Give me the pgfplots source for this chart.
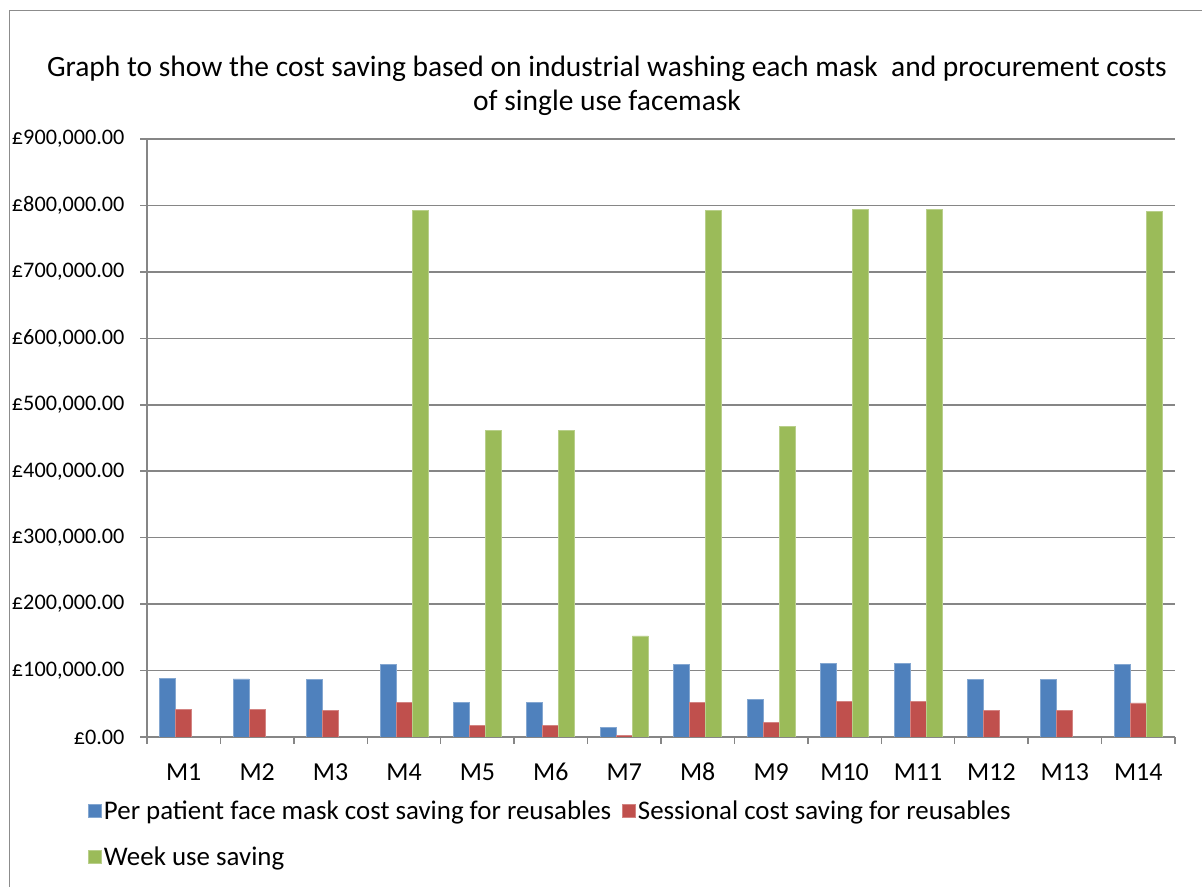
\documentclass[border=0pt]{standalone}
\usepackage{fontspec}
\setmainfont{Carlito}
\usepackage{pgfplots}
\usepackage{pgfplotstable}
\pgfplotsset{compat=1.18}

\definecolor{mblue}{HTML}{4F81BD}
\definecolor{mred}{HTML}{C0504D}
\definecolor{mgreen}{HTML}{9BBB59}
\definecolor{gridgray}{HTML}{868686}
\definecolor{framegray}{HTML}{8C8C8C}

% cost savings per mask type (GBP); nan = no weekly figure
\pgfplotstableread{
cat perpatient sessional week
0  88000  41600  nan
1  87300  41100  nan
2  86300  40100  nan
3  109600 52300  793000
4  52300  17300  462000
5  52300  17300  462000
6  14700  3000   152000
7  108600 51800  792000
8  56900  22300  467000
9  111000 53800  794000
10 111000 53800  794000
11 86300  40600  nan
12 86300  40600  nan
13 108600 51300  791000
}\masks

\pgfplotsset{
  sqlegend/.style={legend image code/.code={%
    \fill[##1] (0bp,-6.5bp) rectangle (13bp,6.5bp);}},
}

\begin{document}
\begin{tikzpicture}[x=1bp,y=1bp]
\path[use as bounding box] (0,0) rectangle (1202,887);
\draw[framegray, line width=1.5bp] (9.5,0) -- (9.5,876.5) -- (1202,876.5);
\node[font=\fontsize{29.6}{34}\selectfont, align=center] at (607,801)
  {Graph to show the cost saving based on industrial washing each mask\ \ and procurement costs\\of single use facemask};

\begin{axis}[
  at={(147bp,150bp)}, anchor=south west,
  scale only axis, width=1028bp, height=598bp,
  xmin=-0.5, xmax=13.5, ymin=0, ymax=900000,
  enlargelimits=false,
  ybar=0pt, bar width=16bp,
  axis x line=bottom, axis y line=left,
  axis line style={-, draw=gridgray, line width=1.5bp},
  ymajorgrids, grid style={draw=gridgray, line width=1.5bp},
  ytick={0,100000,200000,300000,400000,500000,600000,700000,800000,900000},
  yticklabels={£0.00,{£100,000.00},{£200,000.00},{£300,000.00},{£400,000.00},{£500,000.00},{£600,000.00},{£700,000.00},{£800,000.00},{£900,000.00}},
  scaled y ticks=false,
  yticklabel style={font=\fontsize{22.3}{26}\selectfont, anchor=east, xshift=-12bp},
  tick align=outside,
  major tick length=7bp,
  tick style={draw=gridgray, line width=1.5bp},
  xtick={-0.5,0.5,...,13.5},
  xticklabels={},
  extra x ticks={0,1,...,13},
  extra x tick labels={M1,M2,M3,M4,M5,M6,M7,M8,M9,M10,M11,M12,M13,M14},
  extra x tick style={major tick length=0pt, grid=none,
    xticklabel style={font=\fontsize{26}{30}\selectfont, anchor=base, yshift=-44bp}},
  legend columns=2,
  legend cell align=left,
  legend style={draw=none, fill=none, at={(-0.0603,-0.10)}, anchor=north west,
    font=\fontsize{27}{31}\selectfont,
    /tikz/every even column/.append style={column sep=9bp},
    row sep=22bp},
]
\addplot[fill=mblue, draw=mblue!70!white, line width=0.8bp, sqlegend]
  table[x=cat, y=perpatient] {\masks};
\addlegendentry{Per patient face mask cost saving for reusables}
\addplot[fill=mred, draw=mred!70!white, line width=0.8bp, sqlegend]
  table[x=cat, y=sessional] {\masks};
\addlegendentry{Sessional cost saving for reusables}
\addplot[fill=mgreen, draw=mgreen!70!white, line width=0.8bp, sqlegend]
  table[x=cat, y=week] {\masks};
\addlegendentry{Week use saving}
\end{axis}
\end{tikzpicture}
\end{document}
